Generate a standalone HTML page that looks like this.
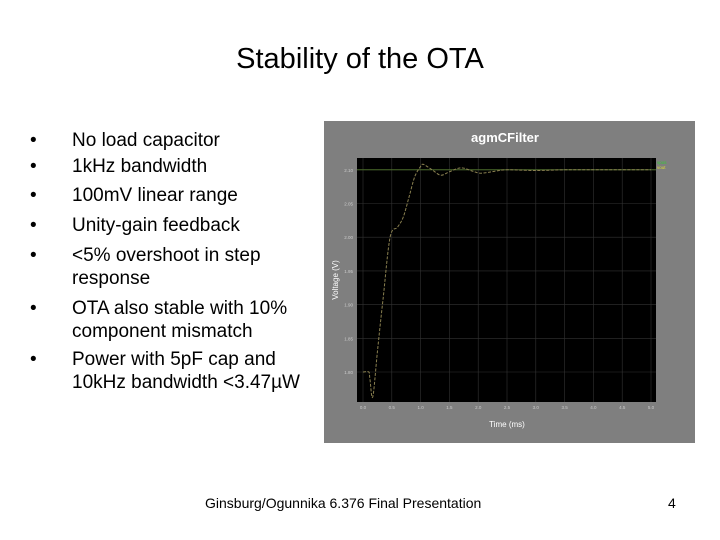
<!DOCTYPE html>
<html><head><meta charset="utf-8"><style>
body{margin:0;width:720px;height:540px;background:#fff;position:relative;overflow:hidden;font-family:"Liberation Sans",sans-serif}
.t{position:absolute;white-space:nowrap;color:#000}
.b{position:absolute;font-size:19px;line-height:23px;white-space:nowrap}
</style></head><body>
<div class="t" style="left:0;width:720px;text-align:center;top:43px;font-size:29px">Stability of the OTA</div>
<div>
<div class="b" style="left:30px;top:129px">•</div><div class="b" style="left:72px;top:129px">No load capacitor</div>
<div class="b" style="left:30px;top:155px">•</div><div class="b" style="left:72px;top:155px">1kHz bandwidth</div>
<div class="b" style="left:30px;top:184px">•</div><div class="b" style="left:72px;top:184px">100mV linear range</div>
<div class="b" style="left:30px;top:214px">•</div><div class="b" style="left:72px;top:214px">Unity-gain feedback</div>
<div class="b" style="left:30px;top:244px">•</div><div class="b" style="left:72px;top:244px">&lt;5% overshoot in step<br>response</div>
<div class="b" style="left:30px;top:297px">•</div><div class="b" style="left:72px;top:297px">OTA also stable with 10%<br>component mismatch</div>
<div class="b" style="left:30px;top:348px">•</div><div class="b" style="left:72px;top:348px">Power with 5pF cap and<br>10kHz bandwidth &lt;3.47µW</div>
</div>
<svg style="position:absolute;left:0;top:0" width="720" height="540" id="chart"></svg>
<div class="t" style="left:205px;top:495px;font-size:14px">Ginsburg/Ogunnika 6.376 Final Presentation</div>
<div class="t" style="left:668px;top:495px;font-size:14px">4</div>
<script>
const times=[0,0.1,0.12,0.17,0.25,0.35,0.47,0.6,0.7,0.8,0.9,1.0,1.05,1.2,1.35,1.5,1.7,1.9,2.05,2.3,2.5,3.0,3.5,4.0,5.0];
const volts=[1.80,1.80,1.79,1.763,1.83,1.91,2.00,2.015,2.03,2.06,2.09,2.105,2.108,2.10,2.092,2.097,2.103,2.098,2.095,2.098,2.10,2.099,2.10,2.10,2.10];
const refVolt=[2.10];
const yTicks=[1.80,1.85,1.90,1.95,2.00,2.05,2.10];
const xTicks=[0,0.5,1,1.5,2,2.5,3,3.5,4,4.5,5];
const NS="http://www.w3.org/2000/svg";
const svg=document.getElementById('chart');
function X(t){return 363+t*57.6;}
function Y(v){return 372-(v-1.80)*674;}
function mk(tag,a,p){const e=document.createElementNS(NS,tag);for(const k in a)e.setAttribute(k,a[k]);(p||svg).appendChild(e);return e;}
const panel=mk('rect',{x:324,y:121,width:371,height:322,fill:'#7f7f7f'});


const plot=mk('rect',{x:357,y:158,width:299,height:244,fill:'#000'});


const ttl=mk('text',{x:505,y:142,'text-anchor':'middle','font-size':'13','font-weight':'bold',fill:'#fff'});ttl.textContent='agmCFilter';


yTicks.forEach(v=>{const g=mk('line',{x1:357,x2:656,y1:Y(v),y2:Y(v),stroke:'#333','stroke-width':0.6});


const l=mk('text',{x:353,y:Y(v)+2,'text-anchor':'end','font-size':'4.5',fill:'#ccc'});l.textContent=v.toFixed(2);

});
xTicks.forEach(t=>{const g=mk('line',{x1:X(t),x2:X(t),y1:158,y2:402,stroke:'#333','stroke-width':0.6});


const l=mk('text',{x:X(t),y:409,'text-anchor':'middle','font-size':'4.5',fill:'#ccc'});l.textContent=t.toFixed(1);

});
const xt=mk('text',{x:507,y:427,'text-anchor':'middle','font-size':'8',fill:'#fff'});xt.textContent='Time (ms)';


const yt=mk('text',{x:338,y:280,'text-anchor':'middle','font-size':'8',fill:'#fff',transform:'rotate(-90 338 280)'});yt.textContent='Voltage (V)';


const ref=mk('line',{x1:357,x2:656,y1:Y(refVolt[0]),y2:Y(refVolt[0]),stroke:'#4a6a2a','stroke-width':1});


const P=times.map((t,i)=>[X(t),Y(volts[i])]);
let d='M'+P[0][0].toFixed(1)+','+P[0][1].toFixed(1);
for(let i=0;i<P.length-1;i++){const p0=P[Math.max(0,i-1)],p1=P[i],p2=P[i+1],p3=P[Math.min(P.length-1,i+2)];
const c1=[p1[0]+(p2[0]-p0[0])/6,p1[1]+(p2[1]-p0[1])/6],c2=[p2[0]-(p3[0]-p1[0])/6,p2[1]-(p3[1]-p1[1])/6];
d+=' C'+c1.map(v=>v.toFixed(1)).join(',')+' '+c2.map(v=>v.toFixed(1)).join(',')+' '+p2.map(v=>v.toFixed(1)).join(',');}
const c=mk('path',{d:d,fill:'none',stroke:'#8a8050','stroke-width':1,'stroke-dasharray':'3,1.5'});


const l1=mk('text',{x:657,y:164,'font-size':'4.5',fill:'#3c3'});l1.textContent='vpos';


const l2=mk('text',{x:657,y:169,'font-size':'4.5',fill:'#dd3'});l2.textContent='vout';


</script>
</body></html>
